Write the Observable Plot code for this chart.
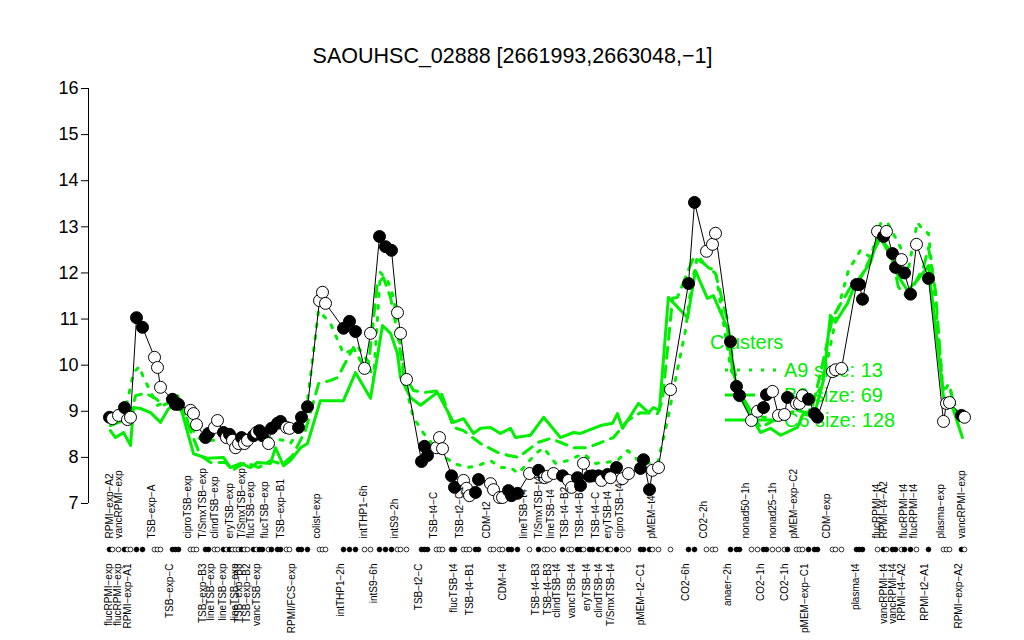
<!DOCTYPE html>
<html><head><meta charset="utf-8">
<script src="https://cdn.jsdelivr.net/npm/d3@7"></script>
<script src="https://cdn.jsdelivr.net/npm/@observablehq/plot@0.6"></script>
<style>body{margin:0;background:#fff}</style>
</head><body><div id="chart"></div>
<script>
const title = "SAOUHSC_02888 [2661993,2663048,\u22121]";
const yTicks = [7, 8, 9, 10, 11, 12, 13, 14, 15, 16];

// condition positions (order index), expression value, filled marker flag
const pointX = [3,4,6,8,9,10,12,14,18,19, 20,24,25,26,30,31,32,35,36,38, 39,41,42,43,44,45,46,47,48,49,
  51,52,53,54,56,57,59,60,62,63, 66,67,69,73,74,75,81,83,85,88, 90,93,95,97,99,100,102,107,108,109,
  112,113,114,117,118,121,122,123,125,126, 130,131,133,134,136,137,139,143,146,148,
  149,151,154,156,157,159,160,161,163,164, 166,167,169,170,172,174,176,180,181,183,
  184,186,190,196,198,202,204,205,210,212, 213,217,219,221,222,224,226,228,229,232,
  233,234,236,238,239,244,245,247,252,253, 254,259,261,262,264,265,267,268,270,272,
  276,281,282,283,287,288];
const pointValue = [8.87,8.84,8.91,9.08,8.82,8.87,11.03,10.82,10.17,9.95,
  9.52,9.26,9.15,9.15,9.02,8.95,8.71,8.43,8.52,8.65,
  8.80,8.54,8.43,8.50,8.37,8.21,8.30,8.43,8.30,8.37,
  8.47,8.54,8.58,8.47,8.30,8.63,8.74,8.78,8.65,8.63,
  8.65,8.87,9.10,11.40,11.58,11.34,10.80,10.95,10.73,9.93,
  10.69,12.79,12.57,12.49,11.14,10.69,9.69,7.91,8.24,8.04,
  8.21,8.43,8.19,7.60,7.35,7.50,7.33,7.17,7.24,7.52,
  7.43,7.30,7.13,7.13,7.28,7.17,7.22,7.65,7.72,7.56,
  7.59,7.65,7.60,7.50,7.35,7.56,7.39,7.87,7.59,7.60,
  7.60,7.50,7.63,7.56,7.78,7.54,7.65,7.76,7.95,7.30,
  7.72,7.78,9.47,11.77,13.53,12.47,12.62,12.86,10.51,9.54,
  9.34,8.80,9.00,9.08,9.36,9.43,8.91,8.93,9.30,9.17,
  9.17,9.34,9.26,8.95,8.87,9.86,9.90,9.93,11.75,11.75,
  11.43,12.90,12.79,12.90,12.42,12.12,12.29,12.00,11.54,12.62,
  11.88,8.78,9.17,9.19,8.91,8.87];
const pointFilled = [1,0,0,1,0,0,1,1,0,0, 0,1,1,1,0,0,0,1,1,0, 0,1,0,1,0,0,0,1,0,0, 1,0,1,1,0,1,1,1,0,0,
  1,1,1,0,0,0,1,1,1,0, 0,1,1,1,0,0,0,1,1,1, 0,0,0,1,1,0,0,0,1,1, 0,0,0,0,1,1,1,0,1,0,
  0,0,1,0,0,1,1,0,1,1, 1,0,1,0,1,0,0,1,1,1, 0,0,0,1,1,0,0,0,1,1, 1,0,0,1,1,0,0,0,1,0,
  0,0,1,1,1,0,0,0,1,1, 1,0,1,0,1,1,0,1,1,0, 1,0,0,0,1,0];

const topLabelX = [4.3,7,18.3,30,35,39.3,44,48,51.3,55.7,61.3,73.3,88.7,99.3,112,120.7,129.7,142.3,147,151.3,
  155.7,160.7,166,170,174,184.7,202,216.3,225.3,232.3,243.3,259.7,262.3,268.7,272.3,281,288];
const topLabelText = ["RPMI-exp-A2","vancRPMI-exp","TSB-exp-A","ciproTSB-exp","T/SmxTSB-exp","clindTSB-exp",
  "eryTSB-exp","T/SmxTSB-exp","flucTSB-exp","flucTSB-exp","TSB-exp-B1","colist-exp","intTHP1-6h","intS9-2h",
  "TSB-t4-C","TSB-t2-C1","CDM-t2","lineTSB-t4","T/SmxTSB-t4","lineTSB-t4","TSB-t4-B2","TSB-t4-B1","TSB-t4-C",
  "eryTSB-t4","ciproTSB-t4","pMEM-t4","CO2-2h","nonad50-1h","nonad25-1h","pMEM-exp-C2","CDM-exp",
  "flucRPMI-t4","RPMI-t4-A2","flucRPMI-t4","flucRPMI-t4","plasma-exp","vancRPMI-exp"];
const bottomLabelX = [3.7,6.7,10.3,24,35,37.7,41.7,45.7,47,49.7,53.3,64.7,81,92.3,107.3,118.7,124,135,146,150,
  153.3,158.3,163.3,167.3,171,181,196,210,221,229.3,235.7,252.7,262.3,265,268.3,275.7,287.3];
const bottomLabelText = ["flucRPMI-exp","flucRPMI-exp","RPMI-exp-A1","TSB-exp-C","TSB-exp-B3","lineTSB-exp",
  "lineTSB-exp","lineTSB-exp","TSB-exp-B3","TSB-exp-B2","vancTSB-exp","RPMI/FCS-exp","intTHP1-2h","intS9-6h",
  "TSB-t2-C","flucTSB-t4","TSB-t4-B1","CDM-t4","TSB-t4-B3","TSB-t4-B3","clindTSB-t4","vancTSB-t4","eryTSB-t4",
  "clindTSB-t4","T/SmxTSB-t4","pMEM-t2-C1","CO2-6h","anaer-2h","CO2-1h","CO2-1h","pMEM-exp-C1","plasma-t4",
  "vancRPMI-t4","vancRPMI-t4","RPMI-t4-A2","RPMI-t2-A1","RPMI-exp-A2"];

// cluster profiles: [position, value]
const clusterA9 = [[3.3,8.80],[8.3,9.02],[11,9.84],[13,9.97],[14.3,9.73],[16,9.52],[17.3,9.34],[19,9.13],[20.7,9.17],
  [23.3,9.34],[25.7,9.34],[29,8.80],[32.3,8.43],[36,8.37],[40.7,8.37],[46,8.26],[49,8.30],[52.3,8.43],[57.3,8.41],
  [61,8.37],[63.3,8.30],[66,8.58],[69,9.23],[72.7,11.19],[76.7,10.90],[81,10.25],[86,10.38],[89,10.10],[91,9.67],
  [93.3,12.01],[95.7,11.84],[97.7,11.47],[100,10.38],[102.3,9.39],[104.3,8.87],[107.7,8.52],[113.3,8.08],[117.7,7.87],
  [122.3,7.78],[125.7,7.82],[130,7.93],[133.3,7.78],[136.7,7.78],[139.3,7.65],[145,8.08],[147.7,8.21],[151.7,7.87],
  [155.7,7.93],[161,8.08],[165,7.87],[168.3,7.89],[172.3,7.93],[175.7,8.15],[180,7.89],[185.7,7.87],[189,8.80],
  [192.3,9.89],[195,10.75],[196.7,11.62],[199,12.38],[202.3,12.12],[205,12.05],[207.7,10.90],[210,9.95],[213.3,9.30],
  [219,8.87],[224.3,8.87],[229,8.95],[232.3,9.02],[235.7,8.95],[240,9.52],[242.3,10.10],[245.7,11.19],[249.3,12.05],
  [253.3,12.49],[256.7,12.34],[260,13.07],[262.3,13.10],[266.7,12.55],[269,11.99],[272.3,13.10],[274.3,12.92],
  [276,12.86],[277.7,11.77],[281,9.39],[282.7,9.60],[286.7,8.74]];
const clusterB2 = [[3.3,8.69],[7.7,8.80],[10,8.91],[11.7,9.34],[15,9.39],[18.3,9.28],[21,9.13],[24,9.23],[26.7,9.19],
  [30,8.58],[33.3,8.04],[36.7,7.89],[41.7,7.89],[44,7.72],[48.3,7.89],[52.7,7.78],[56.7,7.93],[60.7,7.85],[64,8.04],
  [68.3,8.58],[72.7,9.60],[76.7,9.67],[79,9.73],[84.3,10.38],[89,9.82],[92.3,11.77],[94.3,11.90],[96.7,11.47],
  [99,10.69],[101,9.82],[104.3,9.45],[108.3,9.41],[113.3,9.45],[117.7,8.65],[121,8.58],[126.7,8.30],[132.3,8.11],
  [136,8.04],[139.3,8.00],[145.7,8.32],[150,8.41],[157.7,8.21],[162.3,8.21],[166.7,8.32],[171,8.43],[175.7,8.80],
  [180,8.97],[185.7,8.95],[187.3,9.23],[190.7,11.45],[192.3,11.47],[197.7,12.34],[201,12.21],[205,11.99],[209,10.97],
  [211,9.95],[213.3,9.39],[220,8.65],[229,8.95],[232.3,9.02],[236.7,8.95],[240,9.82],[244,11.03],[250,11.69],
  [253.3,11.88],[260,12.77],[264,12.27],[266,11.69],[269,11.47],[274.3,12.12],[276,12.55],[278.3,11.62],[280.7,9.52],
  [283.3,9.45],[286.7,8.65]];
const clusterC6 = [[3.3,8.58],[5,8.43],[7.7,8.54],[10,8.26],[11,9.08],[13.3,9.06],[16.7,8.97],[20,8.76],[22.7,9.06],
  [26,9.17],[27.3,8.95],[31,8.08],[35.7,7.98],[41,8.00],[43.3,7.78],[46.7,7.87],[50,7.78],[52.3,7.89],[56.7,7.87],
  [58.3,8.21],[61,7.82],[63.3,7.93],[66.7,8.21],[69,8.30],[73.3,9.23],[81,9.23],[85,9.84],[90,9.28],[94,10.86],
  [96.7,10.69],[99,10.25],[100,9.73],[103.3,9.30],[106.7,9.13],[112.3,9.41],[117.7,8.76],[121,8.84],[124.3,8.52],
  [126.7,8.63],[130,8.65],[133.3,8.52],[136.7,8.63],[138.3,8.43],[143.3,8.48],[147.7,8.87],[153.3,8.43],[157.7,8.54],
  [160,8.52],[166.7,8.69],[170.7,8.74],[172.3,8.95],[174,8.63],[179.3,9.17],[182.7,8.97],[184.3,9.08],[186.3,9.02],
  [189.3,11.47],[195.7,11.03],[198.3,12.05],[202.3,11.45],[204.3,11.51],[209,10.80],[210.7,9.89],[213.3,9.30],
  [220,8.54],[223.3,8.63],[226.7,8.48],[232.3,8.65],[234.3,8.95],[237.7,8.87],[241,9.67],[243.3,11.08],[245,10.93],
  [249,11.34],[251.7,11.77],[256.7,12.23],[259.3,12.81],[262.7,12.53],[265.7,11.95],[269,11.62],[272.3,11.84],
  [276,12.16],[277.7,11.19],[281,9.30],[283.3,9.23],[287.3,8.43]];

const legendTitle = "Clusters";
const legendEntries = ["A9 size: 13", "B2 size: 69", "C6 size: 128"];

const GREEN = "#00ee00";
const FONT = "'Liberation Sans', Arial, Helvetica, sans-serif";
const xDomain = [-4, 295];
const minus = s => s.replace(/-/g, "\u2212");

const points = pointX.map((x, i) => ({x, v: pointValue[i], filled: pointFilled[i] === 1}));
const topLabels = topLabelX.map((x, i) => ({x, t: topLabelText[i]}));
const bottomLabels = bottomLabelX.map((x, i) => ({x, t: bottomLabelText[i]}));
const toRows = arr => arr.map(([x, v]) => ({x, v}));
const dashes = ["3,9", "11,8", null];

const legendMark = () => {
  const g = d3.create("svg:g").attr("font-family", FONT).attr("fill", GREEN).attr("text-anchor", "start");
  g.append("text").attr("x", 710).attr("y", 349).attr("font-size", 20).text(legendTitle);
  legendEntries.forEach((t, i) => {
    const y = 370 + i * 25;
    const ln = g.append("line").attr("x1", 725).attr("x2", 776).attr("y1", y).attr("y2", y)
      .attr("stroke", GREEN).attr("stroke-width", 3);
    if (dashes[i]) ln.attr("stroke-dasharray", dashes[i]);
    g.append("text").attr("x", 784).attr("y", y + 7).attr("font-size", 20).text(t);
  });
  return g.node();
};

const chart = Plot.plot({
  width: 1024,
  height: 640,
  marginLeft: 88,
  marginRight: 39,
  marginTop: 88,
  marginBottom: 137,
  style: {fontFamily: FONT, background: "#fff", color: "#000"},
  x: {domain: xDomain, axis: null},
  y: {domain: [yTicks[0], yTicks[yTicks.length - 1]], axis: null, label: null},
  marks: [
    Plot.ruleX([xDomain[0]], {y1: yTicks[0], y2: yTicks[yTicks.length - 1], stroke: "#000"}),
    Plot.axisY(yTicks, {tickSize: 7, tickPadding: 3, fontSize: 18, stroke: "#000", fill: "#000", label: null}),
    Plot.text([title], {frameAnchor: "top", dx: -24.5, dy: -41, fontSize: 21.5, fill: "#000"}),
    Plot.line(toRows(clusterC6), {x: "x", y: "v", stroke: GREEN, strokeWidth: 3}),
    Plot.line(toRows(clusterB2), {x: "x", y: "v", stroke: GREEN, strokeWidth: 3, strokeDasharray: dashes[1]}),
    Plot.line(toRows(clusterA9), {x: "x", y: "v", stroke: GREEN, strokeWidth: 3, strokeDasharray: dashes[0]}),
    legendMark,
    Plot.line(points, {x: "x", y: "v", stroke: "#000", strokeWidth: 1}),
    Plot.dot(points, {x: "x", y: "v", r: 6, fill: d => d.filled ? "#000" : "#fff", stroke: "#000", strokeWidth: 1}),
    Plot.dot(points, {x: "x", frameAnchor: "bottom", dy: 46, r: 2.4, fill: d => d.filled ? "#000" : "#fff", stroke: "#000", strokeWidth: 0.8}),
    Plot.text(topLabels, {x: "x", text: d => minus(d.t), frameAnchor: "bottom", dy: 35, rotate: -90, textAnchor: "start", fontSize: 10, fill: "#000"}),
    Plot.text(bottomLabels, {x: "x", text: d => minus(d.t), frameAnchor: "bottom", dy: 60, rotate: -90, textAnchor: "end", fontSize: 10, fill: "#000"})
  ]
});
document.getElementById("chart").appendChild(chart);
</script></body></html>
